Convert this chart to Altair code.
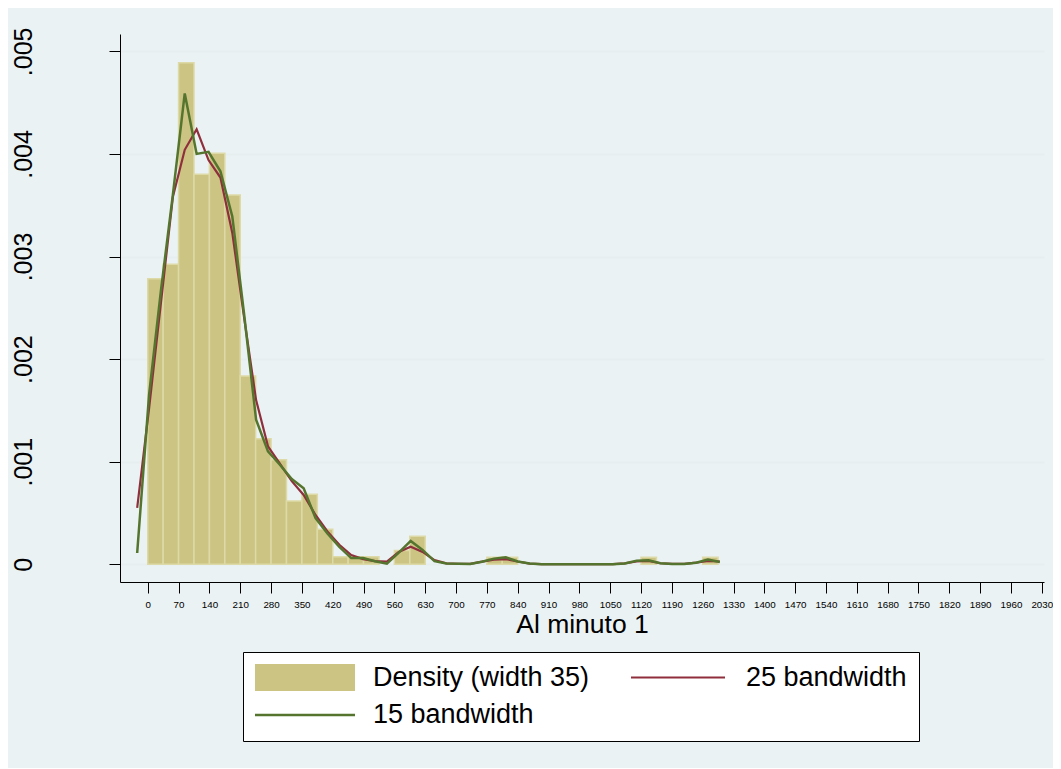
import altair as alt
import pandas as pd

FONT = "Liberation Sans"

# ---------------- data ----------------
bin_width = 35
hist_start = [0, 35, 70, 105, 140, 175, 210, 245, 280, 315, 350, 385, 420, 455,
              490, 560, 595, 770, 805, 1120, 1260]
hist_density = [0.002784, 0.002924, 0.004889, 0.003801, 0.004006, 0.003599,
                0.001835, 0.001224, 0.001019, 0.000617, 0.000682, 0.000341,
                0.000072, 0.000072, 0.000072, 0.000135, 0.000272, 0.000068,
                0.000068, 0.000068, 0.000068]

kde_x = [-24, 3, 30, 57, 84, 111, 138, 165, 192, 219, 246, 273, 300, 327, 354,
         381, 408, 435, 462, 489, 516, 543, 570, 597, 624, 651, 678, 705, 732,
         759, 786, 813, 840, 867, 894, 921, 948, 975, 1002, 1029, 1056, 1083,
         1110, 1137, 1164, 1191, 1218, 1245, 1272, 1299]
kde_bw25 = [0.00055, 0.00152, 0.00255, 0.00358, 0.00404, 0.00424, 0.00394,
            0.00377, 0.00323, 0.00240, 0.00160, 0.00115, 0.00098, 0.00081,
            0.000675, 0.00048, 0.00032, 0.00019, 0.00009, 0.00005, 0.00003,
            0.000025, 0.00012, 0.00017, 0.00012, 0.00004, 0.000008, 0.000005,
            0.000003, 0.000025, 0.000045, 0.00005, 0.000027, 0.000007,
            0.000001, 0.000001, 0.000001, 0.000001, 0.000001, 0.000001,
            0.000001, 0.000008, 0.000028, 0.000032, 0.00001, 0.000003,
            0.000003, 0.000015, 0.000033, 0.000027]
kde_bw15 = [0.00011, 0.00165, 0.00267, 0.00360, 0.00459, 0.00400, 0.00402,
            0.00383, 0.00339, 0.00243, 0.00141, 0.00110, 0.00097, 0.00083,
            0.00074, 0.00045, 0.00030, 0.00017, 0.00006, 0.00006, 0.00003,
            0.000005, 0.000113, 0.000227, 0.00014, 0.00003, 0.000008,
            0.000005, 0.000003, 0.000025, 0.000055, 0.000068, 0.000027,
            0.000007, 0.000001, 0.000001, 0.000001, 0.000001, 0.000001,
            0.000001, 0.000001, 0.000008, 0.000035, 0.000038, 0.00001,
            0.000003, 0.000003, 0.000015, 0.000045, 0.000022]

x_ticks = [0, 70, 140, 210, 280, 350, 420, 490, 560, 630, 700, 770, 840, 910,
           980, 1050, 1120, 1190, 1260, 1330, 1400, 1470, 1540, 1610, 1680,
           1750, 1820, 1890, 1960, 2030]
y_ticks = [0, 0.001, 0.002, 0.003, 0.004, 0.005]

# legend entries (filled column by column: Density, 15 bandwidth | 25 bandwidth)
series = ["Density (width 35)", "15 bandwidth", "25 bandwidth"]
series_colors = ["#cbc482", "#55752f", "#8f2f3d"]
series_shapes = ["M-1,-0.27H1V0.27H-1Z",
                 "M-1,-0.025H1V0.025H-1Z",
                 "M-0.94,-0.022H0.94V0.022H-0.94Z"]

hist_df = pd.DataFrame({
    "start": hist_start,
    "end": [s + bin_width for s in hist_start],
    "density": hist_density,
})
kde_df = pd.DataFrame({"x": kde_x, "bw25": kde_bw25, "bw15": kde_bw15})
legend_df = pd.DataFrame({"series": series})

# ---------------- scales / axes ----------------
x_scale = alt.Scale(domain=[-63, 2035], nice=False, zero=False)
y_scale = alt.Scale(domain=[-0.000173, 0.005169], nice=False, zero=False)

x_axis = alt.Axis(
    values=x_ticks, format="d", title="Al minuto 1", grid=False,
    labelFont=FONT, labelFontSize=9.8, labelColor="black", labelPadding=6,
    labelFlush=False, labelOverlap=False,
    tickSize=11, tickColor="black", tickWidth=1,
    domainColor="black", domainWidth=1,
    titleFont=FONT, titleFontSize=26.5, titleFontWeight="normal",
    titleColor="black", titleY=50, titleBaseline="alphabetic",
)
y_axis = alt.Axis(
    values=y_ticks, title=None,
    labelExpr="datum.value == 0 ? '0' : replace(format(datum.value, '.3f'), '0.', '.')",
    labelAngle=270, labelAlign="center", labelBaseline="alphabetic",
    labelFont=FONT, labelFontSize=25, labelColor="black", labelPadding=78,
    tickSize=11, tickColor="black", tickWidth=1,
    domainColor="black", domainWidth=1,
    grid=True, gridColor="#e6eef0", gridWidth=2,
)

# ---------------- layers ----------------
bars = alt.Chart(hist_df).mark_rect(
    fill="#cbc482", stroke="#dedaa8", strokeWidth=1.5
).encode(
    x=alt.X("start:Q", scale=x_scale, axis=x_axis),
    x2="end:Q",
    y=alt.Y("density:Q", scale=y_scale, axis=y_axis),
    y2=alt.datum(0),
)

red = alt.Chart(kde_df).mark_line(color="#8f2f3d", strokeWidth=2.2).encode(
    x=alt.X("x:Q", scale=x_scale, axis=x_axis),
    y=alt.Y("bw25:Q", scale=y_scale, axis=y_axis),
)

green = alt.Chart(kde_df).mark_line(color="#55752f", strokeWidth=2.5).encode(
    x=alt.X("x:Q", scale=x_scale, axis=x_axis),
    y=alt.Y("bw15:Q", scale=y_scale, axis=y_axis),
)

leg = alt.Legend(
    title=None, orient="none", legendX=123, legendY=618,
    columns=2, columnPadding=38, rowPadding=9.5, clipHeight=27,
    padding=12, fillColor="white", strokeColor="black",
    labelFont=FONT, labelFontSize=27, labelColor="black", labelOffset=18,
    labelLimit=500, symbolSize=10000, symbolStrokeWidth=0,
)

legend_layer = alt.Chart(legend_df).transform_filter("false").mark_point(
    filled=True, opacity=1, size=10000, strokeWidth=0
).encode(
    color=alt.Color("series:N", scale=alt.Scale(domain=series, range=series_colors), legend=leg),
    shape=alt.Shape("series:N", scale=alt.Scale(domain=series, range=series_shapes), legend=leg),
)

chart = alt.layer(bars, red, green, legend_layer).properties(
    width=924, height=548,
    autosize=alt.AutoSizeParams(type="none"),
    padding={"left": 112, "top": 26, "right": 9, "bottom": 186},
    background="#eaf2f3",
).configure_view(fill="white", strokeWidth=0)

chart.save("out.html", embed_options={"renderer": "svg", "actions": False})
